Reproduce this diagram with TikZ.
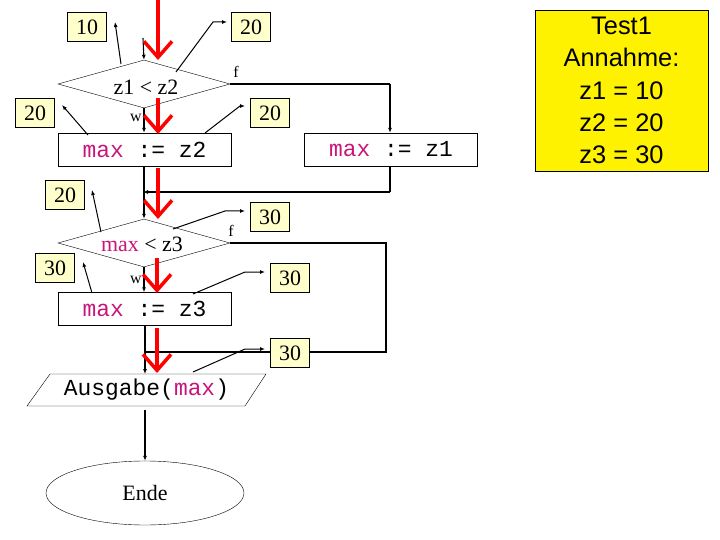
\documentclass[tikz,border=0pt]{standalone}
\usepackage{fontspec}
\setmainfont{Liberation Serif}
\newfontfamily\cour{Liberation Mono}
\newfontfamily\arl{Liberation Sans}
\usetikzlibrary{arrows.meta,shapes.geometric}
\definecolor{kw}{HTML}{C8157A}
\definecolor{ly}{HTML}{FFFFCC}
\newcommand{\kmax}{\textcolor{kw}{max}}
\begin{document}
\begin{tikzpicture}[x=1bp,y=-1bp,
  val/.style={draw,fill=ly,inner sep=0pt,minimum width=39bp,minimum height=29bp,font=\fontsize{22}{24}\selectfont},
  proc/.style={draw,inner sep=0pt,minimum width=173bp,minimum height=33bp,font=\cour\fontsize{23}{24}\selectfont},
  dec/.style={draw,diamond,aspect=3.6,inner sep=0pt,minimum width=172bp,minimum height=48bp},
  flow/.style={-{Latex[length=5bp,width=4bp]},line width=1.1bp},
  ptr/.style={-{Latex[length=5bp,width=4bp]},line width=1bp},
  red/.style={draw=red,line width=3.5bp,-{Straight Barb[length=16bp,width=28bp,line width=3.5bp]}},
  lbl/.style={font=\fontsize{16}{17}\selectfont,inner sep=0pt},
  txt/.style={font=\fontsize{22}{24}\selectfont,inner sep=0pt}]
\useasboundingbox (0,0) rectangle (720,540);
% value boxes
\node[val] (v1) at (87,27) {10};
\node[val] (v2) at (251,27) {20};
\node[val] (v3) at (35,113) {20};
\node[val] (v4) at (270,113) {20};
\node[val] (v5) at (65,195) {20};
\node[val] (v6) at (270,217) {30};
\node[val] (v7) at (55,268) {30};
\node[val] (v8) at (290,278) {30};
% shapes
\node[dec] (d1) at (144,84) {};
\node[txt] (d1t) at (146,87) {z1 < z2};
\node[proc] (r1) at (144.5,149.5) {\kmax\ := z2};
\node[proc] (r2) at (391,149.5) {\kmax\ := z1};
\node[dec] (d2) at (144,243) {};
\node[txt] (d2t) at (142,244) {\kmax\ < z3};
\node[proc] (r3) at (144.5,309) {\kmax\ := z3};
\draw (27,406) -- (50,374) -- (266,374) -- (245,406) -- cycle;
\node[inner sep=0pt,font=\cour\fontsize{23}{24}\selectfont] (io) at (146.5,390) {Ausgabe(\kmax)};
\node[draw,ellipse,minimum width=198bp,minimum height=64bp,font=\fontsize{22}{24}\selectfont] (e) at (145,493) {Ende};
\node[draw,fill=yellow,minimum width=173bp,minimum height=161bp,align=center,inner sep=0pt,font=\arl\fontsize{25.5}{32.5}\selectfont] (t) at (621.5,90.5) {Test1\\Annahme:\\z1 = 10\\z2 = 20\\z3 = 30};
% labels
\node[lbl] at (236,72) {f};
\node[lbl] at (136,118) {w};
\node[lbl] at (231,231) {f};
\node[lbl] at (136,280) {w};
% coordinates
\coordinate (s) at (143,38);
\coordinate (c1) at (390,84);
\coordinate (c2) at (390,192);
\coordinate (m1) at (143,192);
\coordinate (c3) at (386,243);
\coordinate (c4) at (386,352);
\coordinate (m2) at (145,352);
\coordinate (iot) at (145,374);
\coordinate (iob) at (145,410);
% flow
\draw[flow] (s) -- (d1.north);
\draw[flow] (d1.south) -- (r1.north -| d1.south);
\draw[line width=1.1bp] (d1.east) -- (c1);
\draw[flow] (c1) -- (r2.north -| c1);
\draw[line width=1.1bp] (r2.south -| c2) -- (c2);
\draw[flow] (c2) -- (m1);
\draw[flow] (r1.south -| d2.north) -- (d2.north);
\draw[flow] (d2.south) -- (r3.north -| d2.south);
\draw[line width=1.1bp] (d2.east) -- (c3) -- (c4) -- (m2);
\draw[flow] (r3.south -| m2) -- (iot);
\draw[flow] (iob) -- (e.north);
\node[val] (v9) at (290,353) {30};
% pointers
\draw[ptr] (121,64) -- (115,22);
\draw[ptr] (176,72) -- (213,22) -- (227,22);
\draw[ptr] (88,135) -- (62,105);
\draw[ptr] (205,133) -- (240,106) -- (245,106);
\draw[ptr] (101,232) -- (92,190);
\draw[ptr] (173,229) -- (225,211) -- (245,211);
\draw[ptr] (92,293) -- (83,262);
\draw[ptr] (193,294) -- (245,272) -- (265,272);
\draw[ptr] (193,372) -- (245,349) -- (265,349);
% red arrows
\draw[red] (158,0) -- (158,60);
\draw[red] (158,98) -- (158,134);
\draw[red] (158,168) -- (158,219);
\draw[red] (157,258) -- (157,293);
\draw[red] (157,328) -- (157,373);
\end{tikzpicture}
\end{document}
